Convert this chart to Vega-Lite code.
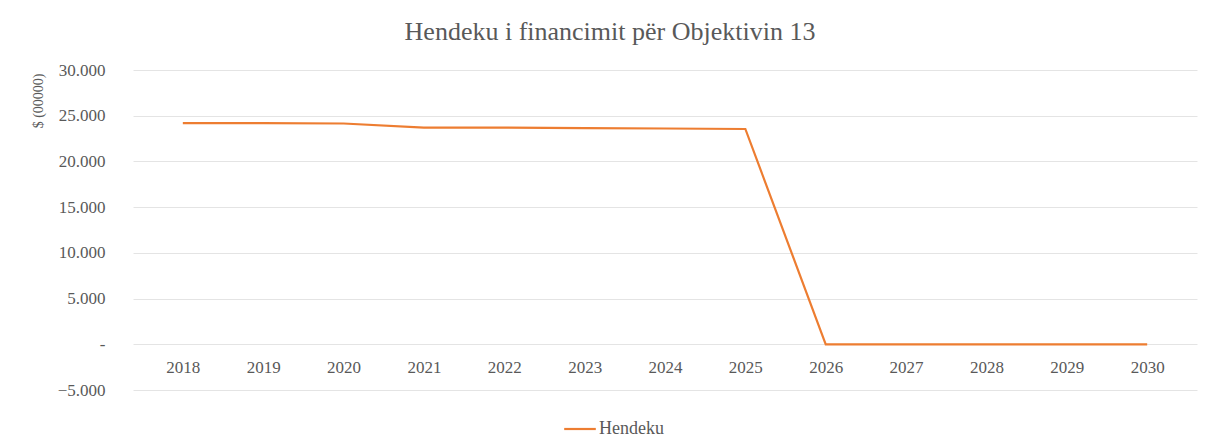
{
  "$schema": "https://vega.github.io/schema/vega-lite/v6.json",
  "width": 1064,
  "height": 320,
  "autosize": {"type": "none"},
  "padding": {"left": 133, "top": 70, "right": 14, "bottom": 52},
  "background": "white",
  "title": {
    "text": "Hendeku i financimit për Objektivin 13",
    "font": "Liberation Serif",
    "fontSize": 26,
    "fontWeight": "normal",
    "color": "#595959",
    "anchor": "middle",
    "frame": "group",
    "dx": -55,
    "offset": 16
  },
  "data": {
    "values": [
      {"year": "2018", "value": 24200, "series": "Hendeku"},
      {"year": "2019", "value": 24200, "series": "Hendeku"},
      {"year": "2020", "value": 24150, "series": "Hendeku"},
      {"year": "2021", "value": 23700, "series": "Hendeku"},
      {"year": "2022", "value": 23700, "series": "Hendeku"},
      {"year": "2023", "value": 23650, "series": "Hendeku"},
      {"year": "2024", "value": 23600, "series": "Hendeku"},
      {"year": "2025", "value": 23550, "series": "Hendeku"},
      {"year": "2026", "value": 0, "series": "Hendeku"},
      {"year": "2027", "value": 0, "series": "Hendeku"},
      {"year": "2028", "value": 0, "series": "Hendeku"},
      {"year": "2029", "value": 0, "series": "Hendeku"},
      {"year": "2030", "value": 0, "series": "Hendeku"}
    ]
  },
  "mark": {"type": "line", "strokeWidth": 2.2},
  "encoding": {
    "x": {
      "field": "year",
      "type": "ordinal",
      "scale": {"type": "point", "padding": 0.62},
      "axis": {
        "title": null,
        "labelAngle": 0,
        "offset": -45,
        "domain": false,
        "ticks": false,
        "labelPadding": 14,
        "labelFont": "Liberation Serif",
        "labelFontSize": 17,
        "labelColor": "#595959",
        "grid": false
      }
    },
    "y": {
      "field": "value",
      "type": "quantitative",
      "scale": {"domain": [-5000, 30000], "nice": false},
      "axis": {
        "values": [-5000, 0, 5000, 10000, 15000, 20000, 25000, 30000],
        "labelExpr": "datum.value == 0 ? '-' : replace(format(datum.value, ','), ',', '.')",
        "title": "$ (00000)",
        "titleFont": "Liberation Serif",
        "titleFontSize": 14,
        "titleFontWeight": "normal",
        "titleColor": "#595959",
        "titleAngle": -90,
        "titleX": -95,
        "titleY": 3,
        "titleAlign": "right",
        "titleBaseline": "middle",
        "labelFont": "Liberation Serif",
        "labelFontSize": 17,
        "labelColor": "#595959",
        "labelPadding": 28,
        "domain": false,
        "ticks": false,
        "gridColor": "#e4e4e4",
        "gridWidth": 1
      }
    },
    "color": {
      "field": "series",
      "type": "nominal",
      "scale": {"range": ["#ED7D31"]},
      "legend": {
        "title": null,
        "orient": "none",
        "legendX": 430,
        "legendY": 342,
        "symbolType": "stroke",
        "symbolSize": 1000,
        "symbolStrokeWidth": 2.2,
        "labelFont": "Liberation Serif",
        "labelFontSize": 18,
        "labelColor": "#595959",
        "labelOffset": 2
      }
    }
  },
  "config": {"view": {"stroke": null}}
}
